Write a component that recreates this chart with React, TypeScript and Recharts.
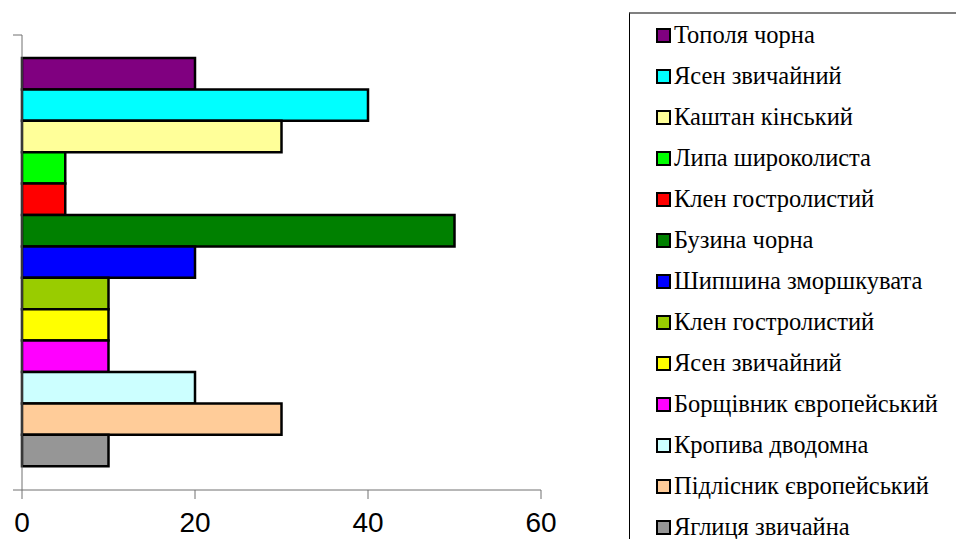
import React from 'react';
import { BarChart, Bar, XAxis, YAxis } from 'recharts';

// species shown, top to bottom
const species = [
  'Тополя чорна',
  'Ясен звичайний',
  'Каштан кінський',
  'Липа широколиста',
  'Клен гостролистий',
  'Бузина чорна',
  'Шипшина зморшкувата',
  'Клен гостролистий',
  'Ясен звичайний',
  'Борщівник європейський',
  'Кропива дводомна',
  'Підлісник європейський',
  'Яглиця звичайна',
];

const values = [20, 40, 30, 5, 5, 50, 20, 10, 10, 10, 20, 30, 10];

const colors = [
  '#800080', '#00FFFF', '#FFFF99', '#00FF00', '#FF0000', '#008000', '#0000FF',
  '#99CC00', '#FFFF00', '#FF00FF', '#CCFFFF', '#FFCC99', '#969696',
];

const xTicks = [0, 20, 40, 60];

// names can repeat, so each series gets its own key
const keys = species.map((_, i) => `s${i}`);
const row: Record<string, number | string> = { cat: '' };
keys.forEach((k, i) => { row[k] = values[i]; });
const data = [row];

const W = 956;
const H = 539;
const TOP = 35;
const PLOT_H = 455;
const LEFT = 22;
const AXIS_COLOR = '#707070';
const ROW_STEP = 41;

// category axis: small marks at both edges of the band instead of the centre
const BandTick = (props: any) => {
  const { y } = props;
  const half = PLOT_H / 2;
  return (
    <g>
      <line x1={LEFT - 9} x2={LEFT} y1={y - half} y2={y - half} stroke={AXIS_COLOR} strokeWidth={1} />
      <line x1={LEFT - 9} x2={LEFT} y1={y + half} y2={y + half} stroke={AXIS_COLOR} strokeWidth={1} />
    </g>
  );
};

export default function App() {
  return (
    <div style={{ position: 'absolute', left: 0, top: 0, width: W, height: H, background: '#fff', overflow: 'hidden' }}>
      <BarChart
        width={W}
        height={H}
        data={data}
        layout="vertical"
        margin={{ top: TOP, right: W - 541, bottom: H - TOP - PLOT_H - 30, left: 0 }}
        barGap={0}
      >
        <XAxis
          type="number"
          domain={[0, 60]}
          ticks={xTicks}
          interval={0}
          height={30}
          stroke={AXIS_COLOR}
          tickSize={9}
          tickMargin={13}
          tick={{ fill: '#000', fontSize: 28, fontFamily: 'Liberation Sans, Arial, sans-serif' }}
        />
        <YAxis
          type="category"
          dataKey="cat"
          width={LEFT}
          stroke={AXIS_COLOR}
          tickLine={false}
          tick={<BandTick />}
        />
        {keys.map((k, i) => (
          <Bar
            key={k}
            dataKey={k}
            name={species[i]}
            fill={colors[i]}
            stroke="#000"
            strokeWidth={2.5}
            barSize={31.4}
            isAnimationActive={false}
          />
        ))}
      </BarChart>

      <div
        style={{
          position: 'absolute',
          left: 629,
          top: 12,
          width: 400,
          height: 600,
          borderLeft: '1px solid #000',
          borderTop: '2px solid #808080',
          boxSizing: 'border-box',
          fontFamily: 'Liberation Serif, "Times New Roman", serif',
          fontSize: 24.5,
          lineHeight: '24px',
          color: '#000',
        }}
      >
        {species.map((name, i) => (
          <div
            key={i}
            style={{
              position: 'absolute',
              left: 26,
              top: 21 + i * ROW_STEP - 12,
              height: 24,
              display: 'flex',
              alignItems: 'center',
              whiteSpace: 'nowrap',
            }}
          >
            <span
              style={{
                display: 'inline-block',
                width: 15,
                height: 15,
                boxSizing: 'border-box',
                border: '2px solid #000',
                background: colors[i],
                marginRight: 3,
              }}
            />
            <span>{name}</span>
          </div>
        ))}
      </div>
    </div>
  );
}
